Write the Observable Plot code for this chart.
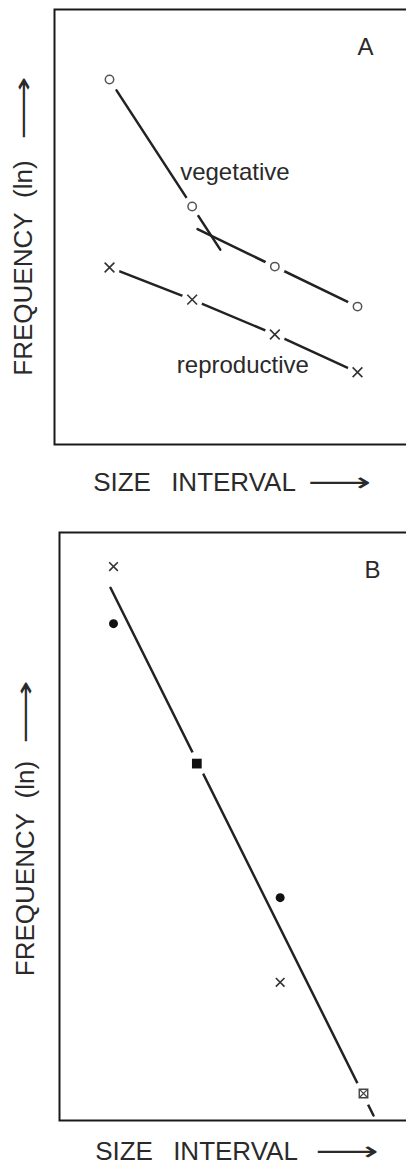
<!DOCTYPE html>
<html><head><meta charset="utf-8">
<script src="https://cdn.jsdelivr.net/npm/d3@7"></script>
<script src="https://cdn.jsdelivr.net/npm/@observablehq/plot@0.6"></script>
<style>
html,body{margin:0;padding:0;background:#fff;overflow:hidden;width:406px;height:1167px}
#a,#b{display:block;width:406px;overflow:hidden}
svg{display:block;max-width:none!important}
</style></head><body><div id="a"></div><div id="b"></div>
<script>
// ---- Panel A data (size interval vs ln frequency, arbitrary units) ----
const sizeInterval = [1, 2, 3, 4];
const vegetativeA = [8.39, 5.47, 4.09, 3.17];
const reproductiveA = [4.07, 3.33, 2.53, 1.66];
// fitted lines drawn through the vegetative points (two segments)
const vegSteepFitX = [1.085, 2.34];
const vegSteepFitY = [8.14, 4.48];
const vegShallowFitX = [2.065, 4];
const vegShallowFitY = [4.95, 3.17];

// ---- Panel B data ----
const crossesBX = [1, 3];
const crossesBY = [9.42, 2.35];
const dotsBX = [1, 3];
const dotsBY = [8.45, 3.79];
const squareBX = [2];
const squareBY = [6.07];
const squareCrossBX = [4];
const squareCrossBY = [0.46];
const fitBX = [0.964, 4.12];
const fitBY = [9.06, 0.085];

const yLabel = "FREQUENCY\u00a0\u00a0(ln)";
const xLabel = "SIZE\u2002\u00a0INTERVAL";
const arrow = "\u27f6";

const zip = (xs, ys, extra = {}) => xs.map((x, i) => ({x, y: ys[i], ...extra}));

const vegPts = zip(sizeInterval, vegetativeA, {series: "vegetative"});
const repPts = zip(sizeInterval, reproductiveA, {series: "reproductive"});
const vegFit = [...zip(vegSteepFitX, vegSteepFitY, {part: "steep"}), ...zip(vegShallowFitX, vegShallowFitY, {part: "shallow"})];

const font = "Liberation Sans, Arial, sans-serif";
const ink = "#222";
const textFill = "#2a2a2a";
const mid = {textAnchor: "middle", lineAnchor: "middle"};

const labelMarks = (o) => [
  Plot.text([yLabel], {frameAnchor: "left", ...mid, rotate: -90, dx: o.ylx, dy: o.yly, fontSize: 26, fontFamily: font, fill: textFill}),
  Plot.text([arrow], {frameAnchor: "left", ...mid, rotate: -90, dx: o.ylx, dy: o.yay, fontSize: 26, fontFamily: "DejaVu Sans", fill: textFill}),
  Plot.text([xLabel], {frameAnchor: "bottom", ...mid, dx: o.xlx, dy: o.xly, fontSize: 26, fontFamily: font, fill: textFill}),
  Plot.text([arrow], {frameAnchor: "bottom", ...mid, dx: o.xax, dy: o.xly, fontSize: 26, fontFamily: "DejaVu Sans", fill: textFill}),
  Plot.text([o.letter], {frameAnchor: "top-right", ...mid, dx: o.lx, dy: o.ly, fontSize: 24, fontFamily: font, fill: textFill})
];

// stretch the long-arrow glyphs along their direction (thin shaft, long arrow)
function stretchArrows(svg) {
  d3.select(svg).selectAll("text").filter(function () { return this.textContent === arrow; })
    .each(function () {
      const t = this.getAttribute("transform") || "";
      this.setAttribute("transform", (t + " scale(1.7,1)").trim());
    });
  return svg;
}

const plotA = Plot.plot({
  width: 410, height: 500,
  marginTop: 9, marginBottom: 56, marginLeft: 54, marginRight: 0,
  x: {domain: [0.3347, 4.641], axis: null},
  y: {domain: [0, 10], axis: null},
  style: {maxWidth: "none", background: "white", overflow: "visible"},
  marks: [
    Plot.frame({stroke: "#1a1a1a", strokeWidth: 2}),
    Plot.line(vegFit, {x: "x", y: "y", z: "part", stroke: ink, strokeWidth: 2.5}),
    Plot.line(repPts, {x: "x", y: "y", stroke: ink, strokeWidth: 2.5}),
    Plot.dot([...vegPts, ...repPts], {x: "x", y: "y", r: 10.5, fill: "white"}),
    Plot.dot(vegPts, {x: "x", y: "y", r: 4.2, stroke: "#555", fill: "white", strokeWidth: 1.5}),
    Plot.dot(repPts, {x: "x", y: "y", symbol: "times", r: 4.5, stroke: "#333", strokeWidth: 1.6}),
    Plot.text(vegPts.filter(d => d.x === 2), {x: "x", y: "y", text: d => d.series, textAnchor: "start", dx: -12, dy: -34, fontSize: 24, fontFamily: font, fill: textFill}),
    Plot.text(repPts.filter(d => d.x === 3), {x: "x", y: "y", text: d => d.series, textAnchor: "start", dx: -98, dy: 31, fontSize: 24, fontFamily: font, fill: textFill}),
    ...labelMarks({ylx: -31, yly: 41, yay: -119, xlx: -38, xly: 38, xax: 107, letter: "A", lx: -45, ly: 38})
  ]
});
document.getElementById("a").append(stretchArrows(plotA));

const plotB = Plot.plot({
  width: 410, height: 667,
  marginTop: 32, marginBottom: 47, marginLeft: 59, marginRight: 0,
  x: {domain: [0.352, 4.564], axis: null},
  y: {domain: [0, 10], axis: null},
  style: {maxWidth: "none", background: "white", overflow: "visible"},
  marks: [
    Plot.frame({stroke: "#1a1a1a", strokeWidth: 2}),
    Plot.line(zip(fitBX, fitBY), {x: "x", y: "y", stroke: ink, strokeWidth: 2.5}),
    Plot.dot([...zip(squareBX, squareBY), ...zip(squareCrossBX, squareCrossBY)], {x: "x", y: "y", r: 12, fill: "white"}),
    Plot.dot(zip(crossesBX, crossesBY), {x: "x", y: "y", symbol: "times", r: 4, stroke: "#333", strokeWidth: 1.6}),
    Plot.dot(zip(dotsBX, dotsBY), {x: "x", y: "y", r: 4.5, fill: "#111"}),
    Plot.dot(zip(squareBX, squareBY), {x: "x", y: "y", symbol: "square", r: 5.5, fill: "#111"}),
    Plot.dot(zip(squareCrossBX, squareCrossBY), {x: "x", y: "y", symbol: "square", r: 4.8, stroke: "#444", fill: "white", strokeWidth: 1.4}),
    Plot.dot(zip(squareCrossBX, squareCrossBY), {x: "x", y: "y", symbol: "times", r: 3.8, stroke: "#444", strokeWidth: 1.2}),
    ...labelMarks({ylx: -34, yly: 42, yay: -114.5, xlx: -38.5, xly: 31, xax: 112, letter: "B", lx: -38, ly: 38})
  ]
});
document.getElementById("b").append(stretchArrows(plotB));
</script></body></html>
